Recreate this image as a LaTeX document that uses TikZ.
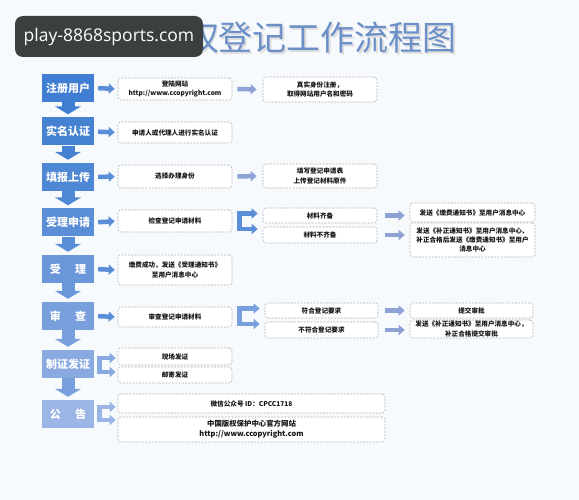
\documentclass[tikz,border=0pt]{standalone}
\usepackage{fontspec}
\setmainfont{Noto Sans CJK SC}
\newfontfamily\wmfont{Open Sans}
\usetikzlibrary{arrows.meta,shadows}
\definecolor{bgc}{HTML}{F6FAFC}
\definecolor{titlec}{HTML}{6C8FC8}
\definecolor{dashc}{HTML}{B4B4B8}
\definecolor{txtc}{HTML}{141414}
\definecolor{c1}{HTML}{3F7ED3}
\definecolor{c2}{HTML}{4682D2}
\definecolor{c3}{HTML}{4E87D3}
\definecolor{c4}{HTML}{5A8ED6}
\definecolor{c5}{HTML}{6A97DA}
\definecolor{c6}{HTML}{79A0DD}
\definecolor{c7}{HTML}{89AAE1}
\definecolor{c8}{HTML}{9BB6E6}
\definecolor{arrl}{HTML}{5A8ED8}
\definecolor{arrr}{HTML}{8EA2D6}
\definecolor{wmc}{HTML}{3B3F3F}
\begin{document}
\begin{tikzpicture}[x=1pt,y=-1pt,
  lbox/.style={rectangle, minimum width=52pt, minimum height=28pt, inner sep=0pt,
    text=white, font=\bfseries\fontsize{11}{11}\selectfont},
  dbox/.style={rectangle, rounded corners=3pt, draw=dashc, dash pattern=on 2pt off 1.3pt,
    line width=0.6pt, fill=white, inner sep=0pt, align=center, text=txtc,
    font=\bfseries\fontsize{6.6}{9.2}\selectfont},
  darr/.style={line width=13pt, -{Triangle[width=26pt,length=8pt]}, shorten >=3pt},
  sarr/.style={draw=arrl, line width=4.5pt, -{Triangle[width=10pt,length=6pt]}},
  rarr/.style={draw=arrr, line width=4.5pt, -{Triangle[width=10pt,length=6pt]}},
  brk/.style={line width=4.5pt, line join=miter,
    {Triangle[width=10pt,length=6pt]}-{Triangle[width=10pt,length=6pt]}}
]
\useasboundingbox (0,0) rectangle (579,500);
\fill[bgc] (0,0) rectangle (579,500);

% title
\node[text=gray!25, font=\fontsize{34}{34}\selectfont] at (271.5,40) {作品版权登记工作流程图};
\node[text=titlec, font=\fontsize{34}{34}\selectfont] (title) at (270,38) {作品版权登记工作流程图};

% watermark
\node[fill=wmc, rounded corners=8pt, minimum width=188pt, minimum height=41pt, inner sep=0pt,
  text=white, font=\wmfont\fontsize{17.5}{17.5}\selectfont] (wm) at (109,36.5) {play-8868sports.com};

% left column
\node[lbox, fill=c1] (b1) at (68,88) {注册用户};
\node[lbox, fill=c2] (b2) at (68,131.5) {实名认证};
\node[lbox, fill=c3] (b3) at (68,177) {填报上传};
\node[lbox, fill=c4] (b4) at (68,222.5) {受理申请};
\node[lbox, fill=c5] (b5) at (68,269) {受\hspace{1.3em}理};
\node[lbox, fill=c6] (b6) at (68,316) {审\hspace{1.3em}查};
\node[lbox, fill=c7] (b7) at (68,364) {制证发证};
\node[lbox, fill=c8] (b8) at (68,414) {公\hspace{1.3em}告};

\draw[darr, draw=c1] (b1.south) -- (b2.north);
\draw[darr, draw=c2] (b2.south) -- (b3.north);
\draw[darr, draw=c3] (b3.south) -- (b4.north);
\draw[darr, draw=c4] (b4.south) -- (b5.north);
\draw[darr, draw=c5] (b5.south) -- (b6.north);
\draw[darr, draw=c6] (b6.south) -- (b7.north);
\draw[darr, draw=c6] (b7.south) -- (b8.north);

% first column
\node[dbox, minimum width=114pt, minimum height=22pt] (a1) at (175,89) {登陆网站\\http://www.ccopyright.com};
\node[dbox, minimum width=114pt, minimum height=21pt] (a2) at (175,132.5) {申请人或代理人进行实名认证};
\node[dbox, minimum width=114pt, minimum height=23pt] (a3) at (175,176.5) {选择办理身份};
\node[dbox, minimum width=114pt, minimum height=22pt] (a4) at (175,221) {检查登记申请材料};
\node[dbox, minimum width=114pt, minimum height=30pt] (a5) at (175,270) {缴费成功，发送《受理通知书》\\至用户消息中心};
\node[dbox, minimum width=114pt, minimum height=20pt] (a6) at (175,317) {审查登记申请材料};
\node[dbox, minimum width=114pt, minimum height=17pt] (a7) at (175,356.5) {现场发证};
\node[dbox, minimum width=114pt, minimum height=16pt] (a8) at (175,375) {邮寄发证};
\node[dbox, minimum width=267pt, minimum height=19pt] (a9) at (251.5,403.5) {微信公众号 ID：CPCC1718};
\node[dbox, minimum width=267pt, minimum height=25pt, font=\bfseries\fontsize{7.4}{10}\selectfont] (a10) at (251.5,429.5) {中国版权保护中心官方网站\\http://www.ccopyright.com};

\draw[sarr, shorten <=4pt, shorten >=3pt] (b1.east) -- (a1.west);
\draw[sarr, shorten <=4pt, shorten >=3pt] (b2.east) -- (a2.west);
\draw[sarr, shorten <=4pt, shorten >=3pt] (b3.east) -- (a3.west);
\draw[sarr, shorten <=4pt, shorten >=3pt] (b4.east) -- (a4.west);
\draw[sarr, shorten <=4pt, shorten >=3pt] (b5.east) -- (a5.west);
\draw[sarr, shorten <=4pt, shorten >=3pt] (b6.east) -- (a6.west);

% second column
\node[dbox, minimum width=114pt, minimum height=25pt] (s1) at (320,89.5) {真实身份注册，\\取得网站用户名和密码};
\node[dbox, minimum width=114pt, minimum height=24pt] (s3) at (320,176) {填写登记申请表\\上传登记材料原件};
\node[dbox, minimum width=114pt, minimum height=15pt] (m1) at (320,215.5) {材料齐备};
\node[dbox, minimum width=114pt, minimum height=16pt] (m2) at (320,235) {材料不齐备};
\node[dbox, minimum width=113pt, minimum height=15pt] (n1) at (321.5,310.5) {符合登记要求};
\node[dbox, minimum width=113pt, minimum height=16pt] (n2) at (321.5,330) {不符合登记要求};

\draw[rarr, shorten <=5pt, shorten >=6pt] (a1.east) -- (s1.west);
\draw[rarr, shorten <=5pt, shorten >=6pt] (a3.east) -- (s3.west);

% third column
\node[dbox, minimum width=125pt, minimum height=19pt] (r1) at (472.5,212.5) {发送《缴费通知书》至用户消息中心};
\node[dbox, minimum width=125pt, minimum height=34pt] (r2) at (472.5,240) {发送《补正通知书》至用户消息中心、\\补正合格后发送《缴费通知书》至用户\\消息中心};
\node[dbox, minimum width=123pt, minimum height=15pt] (r3) at (471.5,310.5) {提交审批};
\node[dbox, minimum width=123pt, minimum height=18pt] (r4) at (471.5,329) {发送《补正通知书》至用户消息中心，\\补正合格提交审批};

\draw[rarr, shorten <=8pt, shorten >=5pt] (m1.east) -- (m1.east -| r1.west);
\draw[rarr, shorten <=8pt, shorten >=5pt] (m2.east) -- (m2.east -| r2.west);
\draw[rarr, shorten <=7pt, shorten >=5pt] (n1.east) -- (n1.east -| r3.west);
\draw[rarr, shorten <=7pt, shorten >=5pt] (n2.east) -- (n2.east -| r4.west);

% bracket arrows
\draw[brk, draw=c4] ([xshift=-5pt,yshift=2pt]m1.west) -- ([xshift=-23pt,yshift=2pt]m1.west)
  -- ([xshift=-23pt,yshift=6pt]m2.west) -- ([xshift=-5pt,yshift=6pt]m2.west);
\draw[brk, draw=c6] ([xshift=-5pt,yshift=2pt]n1.west) -- ([xshift=-25pt,yshift=2pt]n1.west)
  -- ([xshift=-25pt,yshift=6pt]n2.west) -- ([xshift=-5pt,yshift=6pt]n2.west);
\draw[brk, draw=c7] ([xshift=-2pt,yshift=-1.5pt]a7.west) -- ([xshift=-18pt,yshift=-1.5pt]a7.west)
  -- ([xshift=-18pt,yshift=3pt]a8.west) -- ([xshift=-2pt,yshift=3pt]a8.west);
\draw[brk, draw=c8] ([xshift=-2pt,yshift=-3.5pt]a9.west) -- ([xshift=-18pt,yshift=-3.5pt]a9.west)
  -- ([xshift=-18pt,yshift=9.5pt]a10.west) -- ([xshift=-2pt,yshift=9.5pt]a10.west);
\end{tikzpicture}
\end{document}
